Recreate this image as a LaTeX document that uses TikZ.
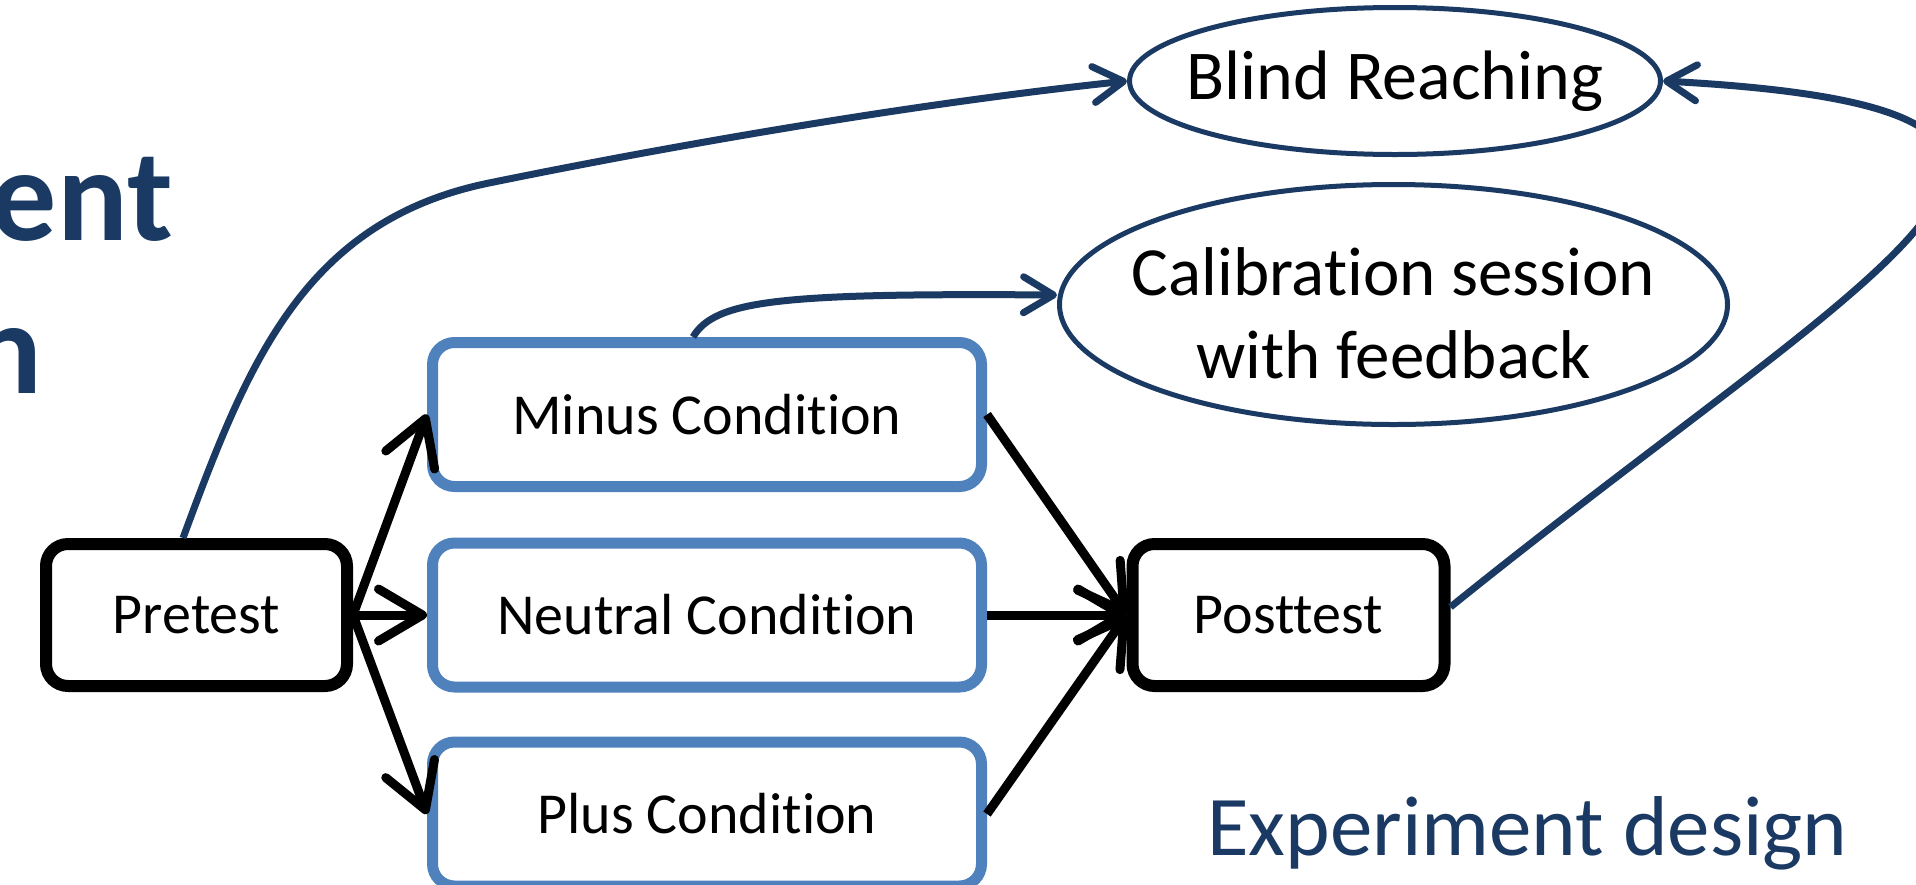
\documentclass[tikz,border=0pt]{standalone}
\usepackage{fontspec}
\setmainfont{Carlito}[Ligatures=NoCommon]
\usetikzlibrary{arrows.meta,shapes.geometric}
\definecolor{navy}{RGB}{27,58,99}
\definecolor{condblue}{RGB}{79,129,189}

\begin{document}
\begin{tikzpicture}[x=1pt,y=-1pt,
    stage/.style={draw=black,line width=12pt,rounded corners=22pt,fill=white,
        minimum height=142pt,inner sep=0pt,font=\fontsize{58}{68}\selectfont},
    cond/.style={draw=condblue,line width=11pt,rounded corners=22pt,fill=white,
        minimum width=549pt,minimum height=144pt,inner sep=0pt,font=\fontsize{58}{68}\selectfont},
    session/.style={ellipse,draw=navy,line width=5pt,fill=white,inner sep=0pt,align=center},
    flow/.style={line width=9pt,-{Straight Barb[length=44pt,width=52pt,line width=9pt,round]}},
    link/.style={draw=navy,line width=7pt,-{Straight Barb[length=30pt,width=36pt,line width=7pt,round]}}]
            \useasboundingbox (0,0) rectangle (1916,884);
            \clip (0,0) rectangle (1916,884);
            \node[anchor=base east,inner sep=0pt,text=navy,font=\fontsize{132}{154}\selectfont\bfseries](9) at (173,240) {ent};
            \node[anchor=base east,inner sep=0pt,text=navy,font=\fontsize{132}{154}\selectfont\bfseries](10) at (43,393) {n};
            \node[stage,minimum width=301pt](1) at (196.5,615) {Pretest};
            \node[cond](2) at (707,414.5) {Minus Condition};
            \node[cond](3) at (707,615) {Neutral Condition};
            \node[cond](4) at (707,814) {Plus Condition};
            \node[stage,minimum width=312pt](5) at (1288.5,615) {Posttest};
            \node[session,minimum width=531pt,minimum height=147pt,font=\fontsize{70}{84}\selectfont](6) at (1395,81) {\makebox[0pt]{Blind Reaching}};
            \node[session,minimum width=668pt,minimum height=240pt,font=\fontsize{69}{83}\selectfont](7) at (1393.5,304.5) {\makebox[0pt]{\rule{0pt}{66pt}Calibration session}\\\makebox[0pt]{with feedback}};
            \node[anchor=base west,inner sep=0pt,text=navy,font=\fontsize{85}{100}\selectfont](8) at (1207,855) {Experiment design};
            \path[flow] (1.east) edge (2.west) (1.east) edge (3.west) (1.east) edge (4.west);
            \path[flow] (2.east) edge (5.west) (3.east) edge (5.west) (4.east) edge (5.west);
            % loops round to the two sessions
            \draw[link] ([xshift=-13.5pt]1.north) .. controls (247,365) and (303,221) .. (489,183)
                .. controls (650,150) and (900,105) .. (6.west);
            \draw[link] ([xshift=-14pt]2.north) .. controls (715,300) and (780,293) .. ([yshift=9.5pt]7.west);
            \draw[link] ([yshift=8pt]5.east) .. controls (1880,260) and (2200,110) .. (6.east);
        \end{tikzpicture}
\end{document}
